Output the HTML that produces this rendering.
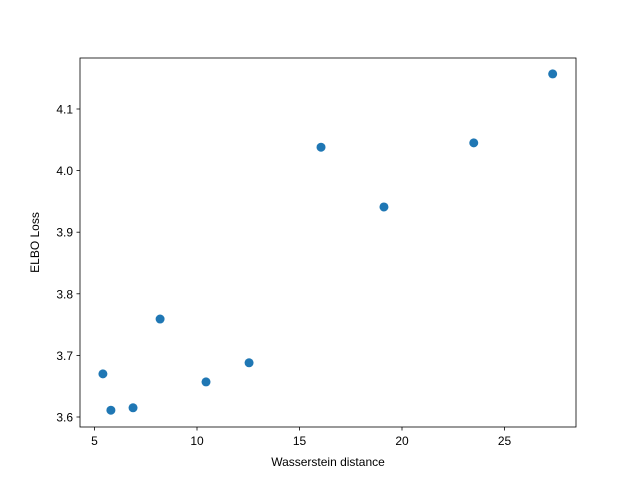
<!DOCTYPE html>
<html><head><meta charset="utf-8"><style>
html,body{margin:0;padding:0;background:#fff;}
svg{display:block;font-family:"Liberation Sans","DejaVu Sans",sans-serif;}
</style></head><body>
<svg id="chart" width="640" height="480" viewBox="0 0 640 480">
<rect x="0" y="0" width="640" height="480" fill="#fff"/>
<rect x="80" y="58" width="496" height="369" fill="none" stroke="#000" stroke-width="0.8"/>
<text x="328" y="466" text-anchor="middle" font-size="12">Wasserstein distance</text>
<text transform="translate(39,242.5) rotate(-90)" text-anchor="middle" font-size="12">ELBO Loss</text>
</svg>
<script>
const xValues = [5.41, 5.8, 6.88, 8.2, 10.44, 12.54, 16.05, 19.12, 23.5, 27.35];
const yValues = [3.670, 3.611, 3.615, 3.759, 3.657, 3.688, 4.038, 3.941, 4.045, 4.157];
const xTicks = [5, 10, 15, 20, 25];
const yTicks = [3.6, 3.7, 3.8, 3.9, 4.0, 4.1];
const xTickLabels = ["5", "10", "15", "20", "25"];
const yTickLabels = ["3.6", "3.7", "3.8", "3.9", "4.0", "4.1"];

const ns = "http://www.w3.org/2000/svg";
const svg = document.getElementById("chart");
function sx(v){ return 94.5 + (v - 5) * 20.5; }
function sy(v){ return 417 - (v - 3.6) * 616; }
function mk(tag, attrs){ const e = document.createElementNS(ns, tag); for (const k in attrs) e.setAttribute(k, attrs[k]); svg.appendChild(e); return e; }

xTicks.forEach((t, i) => {
  const x = sx(t);
  const l = mk("line", {x1:x, x2:x, y1:427, y2:430.5, stroke:"#000", "stroke-width":0.8});
  
  
  const tx = mk("text", {x:x, y:445, "text-anchor":"middle", "font-size":"12"});
  tx.textContent = xTickLabels[i];
  
  
});
yTicks.forEach((t, i) => {
  const y = sy(t);
  const l = mk("line", {x1:76.5, x2:80, y1:y, y2:y, stroke:"#000", "stroke-width":0.8});
  
  
  const tx = mk("text", {x:73, y:y + 4.5, "text-anchor":"end", "font-size":"12"});
  tx.textContent = yTickLabels[i];
  
  
});
xValues.forEach((v, i) => {
  const c = mk("circle", {cx:sx(v), cy:sy(yValues[i]), r:4.5, fill:"#1f77b4"});
  
  
});
</script>
</body></html>
